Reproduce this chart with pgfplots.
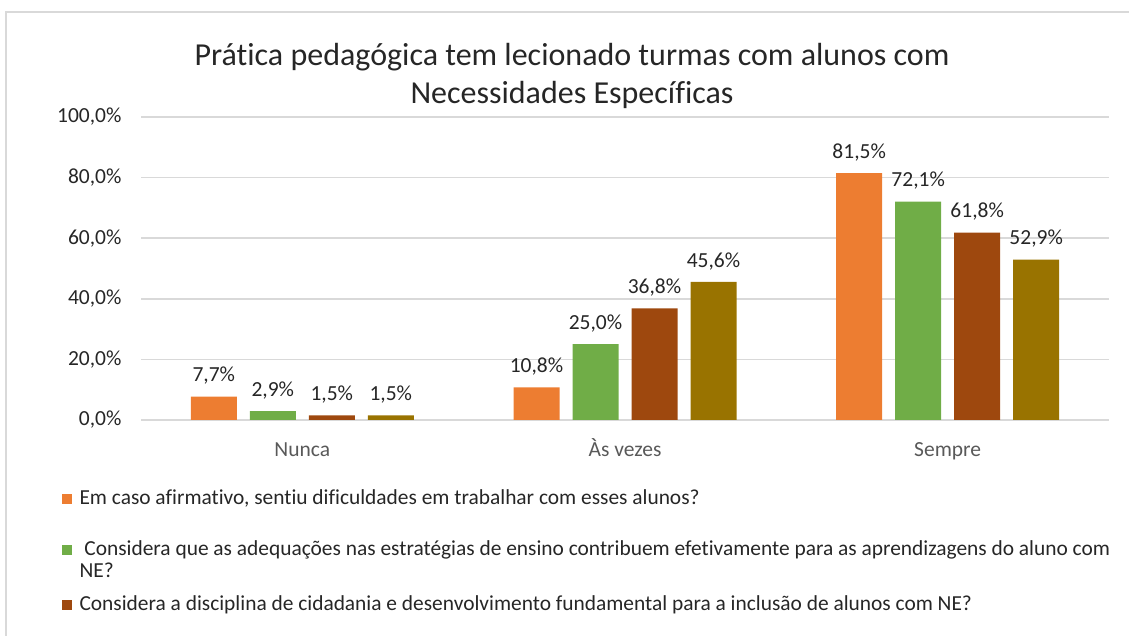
\documentclass[border=0pt]{standalone}
\usepackage{fontspec}
\setmainfont{Carlito}[Ligatures=NoCommon]
\usepackage{pgfplots}
\pgfplotsset{compat=1.18}
\definecolor{c1}{HTML}{ED7D31}
\definecolor{c2}{HTML}{70AD47}
\definecolor{c3}{HTML}{9E480E}
\definecolor{c4}{HTML}{997300}
\definecolor{gridc}{HTML}{D9D9D9}
\definecolor{txt}{HTML}{262626}
\definecolor{cat}{HTML}{595959}
\begin{document}
\begin{tikzpicture}[x=1pt,y=1pt]
\path[use as bounding box] (0,0) rectangle (1129,636);
\draw[gridc, line width=1.5pt] (6,-2) -- (6,624) -- (1131,624);
\node[anchor=base, font=\fontsize{32}{38}\selectfont, text=txt] at (572,570) {Prática pedagógica tem lecionado turmas com alunos com};
\node[anchor=base, font=\fontsize{32}{38}\selectfont, text=txt] at (572,532) {Necessidades Específicas};
\begin{axis}[
  at={(141pt,216pt)}, anchor=south west,
  scale only axis, width=968pt, height=303pt,
  xmin=-0.5, xmax=2.5, ymin=0, ymax=100,
  xtick={0,1,2}, xticklabels={Nunca,Às vezes,Sempre},
  ytick={0,20,40,60,80,100},
  ymajorgrids, grid style={gridc, line width=1.5pt},
  axis line style={draw=none},
  major tick length=0pt,
  /pgf/number format/assume math mode=true,
  yticklabel={\pgfmathprintnumber[fixed,fixed zerofill,precision=1,use comma]{\tick}\%},
  yticklabel style={font=\fontsize{21.5}{24}\selectfont, text=txt, xshift=-16pt},
  xticklabel style={font=\fontsize{21.5}{24}\selectfont, text=cat, anchor=base, yshift=-37pt},
  ybar, bar width=46pt,
  legend image code/.code={\fill[#1] (0pt,1pt) rectangle (9.5pt,10.5pt);},
  nodes near coords={\pgfmathprintnumber[fixed,fixed zerofill,precision=1,use comma]{\pgfplotspointmeta}\%},
  every node near coord/.append style={font=\fontsize{21.5}{24}\selectfont, text=txt, yshift=8.5pt},
  legend style={at={(-0.0816,-0.2310)}, anchor=north west, draw=none, fill=none,
    inner sep=0pt, outer sep=0pt, row sep=0pt,
    nodes={inner sep=0pt, text depth=},
    cells={anchor=base west},
    font=\fontsize{21.4}{22}\selectfont, text=txt,
    /tikz/every odd column/.append style={column sep=8pt}},
]
\addplot[fill=c1, draw=none, bar shift=-88.5pt] coordinates {(0,7.7) (1,10.8) (2,81.5)};
\addlegendentry{\parbox[t]{1100pt}{\raggedright\rule[-36pt]{0pt}{15pt}Em caso afirmativo, sentiu dificuldades em trabalhar com esses alunos?}}
\addplot[fill=c2, draw=none, bar shift=-29.5pt] coordinates {(0,2.9) (1,25.0) (2,72.1)};
\addlegendentry{\parbox[t]{1100pt}{\raggedright\rule{0pt}{15pt} Considera que as adequações nas estratégias de ensino contribuem efetivamente para as aprendizagens do aluno com\\NE?\rule[-18pt]{0pt}{0pt}}}
\addplot[fill=c3, draw=none, bar shift=29.5pt] coordinates {(0,1.5) (1,36.8) (2,61.8)};
\addlegendentry{\parbox[t]{1100pt}{\raggedright\rule{0pt}{15pt}Considera a disciplina de cidadania e desenvolvimento fundamental para a inclusão de alunos com NE?}}
\addplot[fill=c4, draw=none, bar shift=88.5pt] coordinates {(0,1.5) (1,45.6) (2,52.9)};
\end{axis}
\end{tikzpicture}
\end{document}
